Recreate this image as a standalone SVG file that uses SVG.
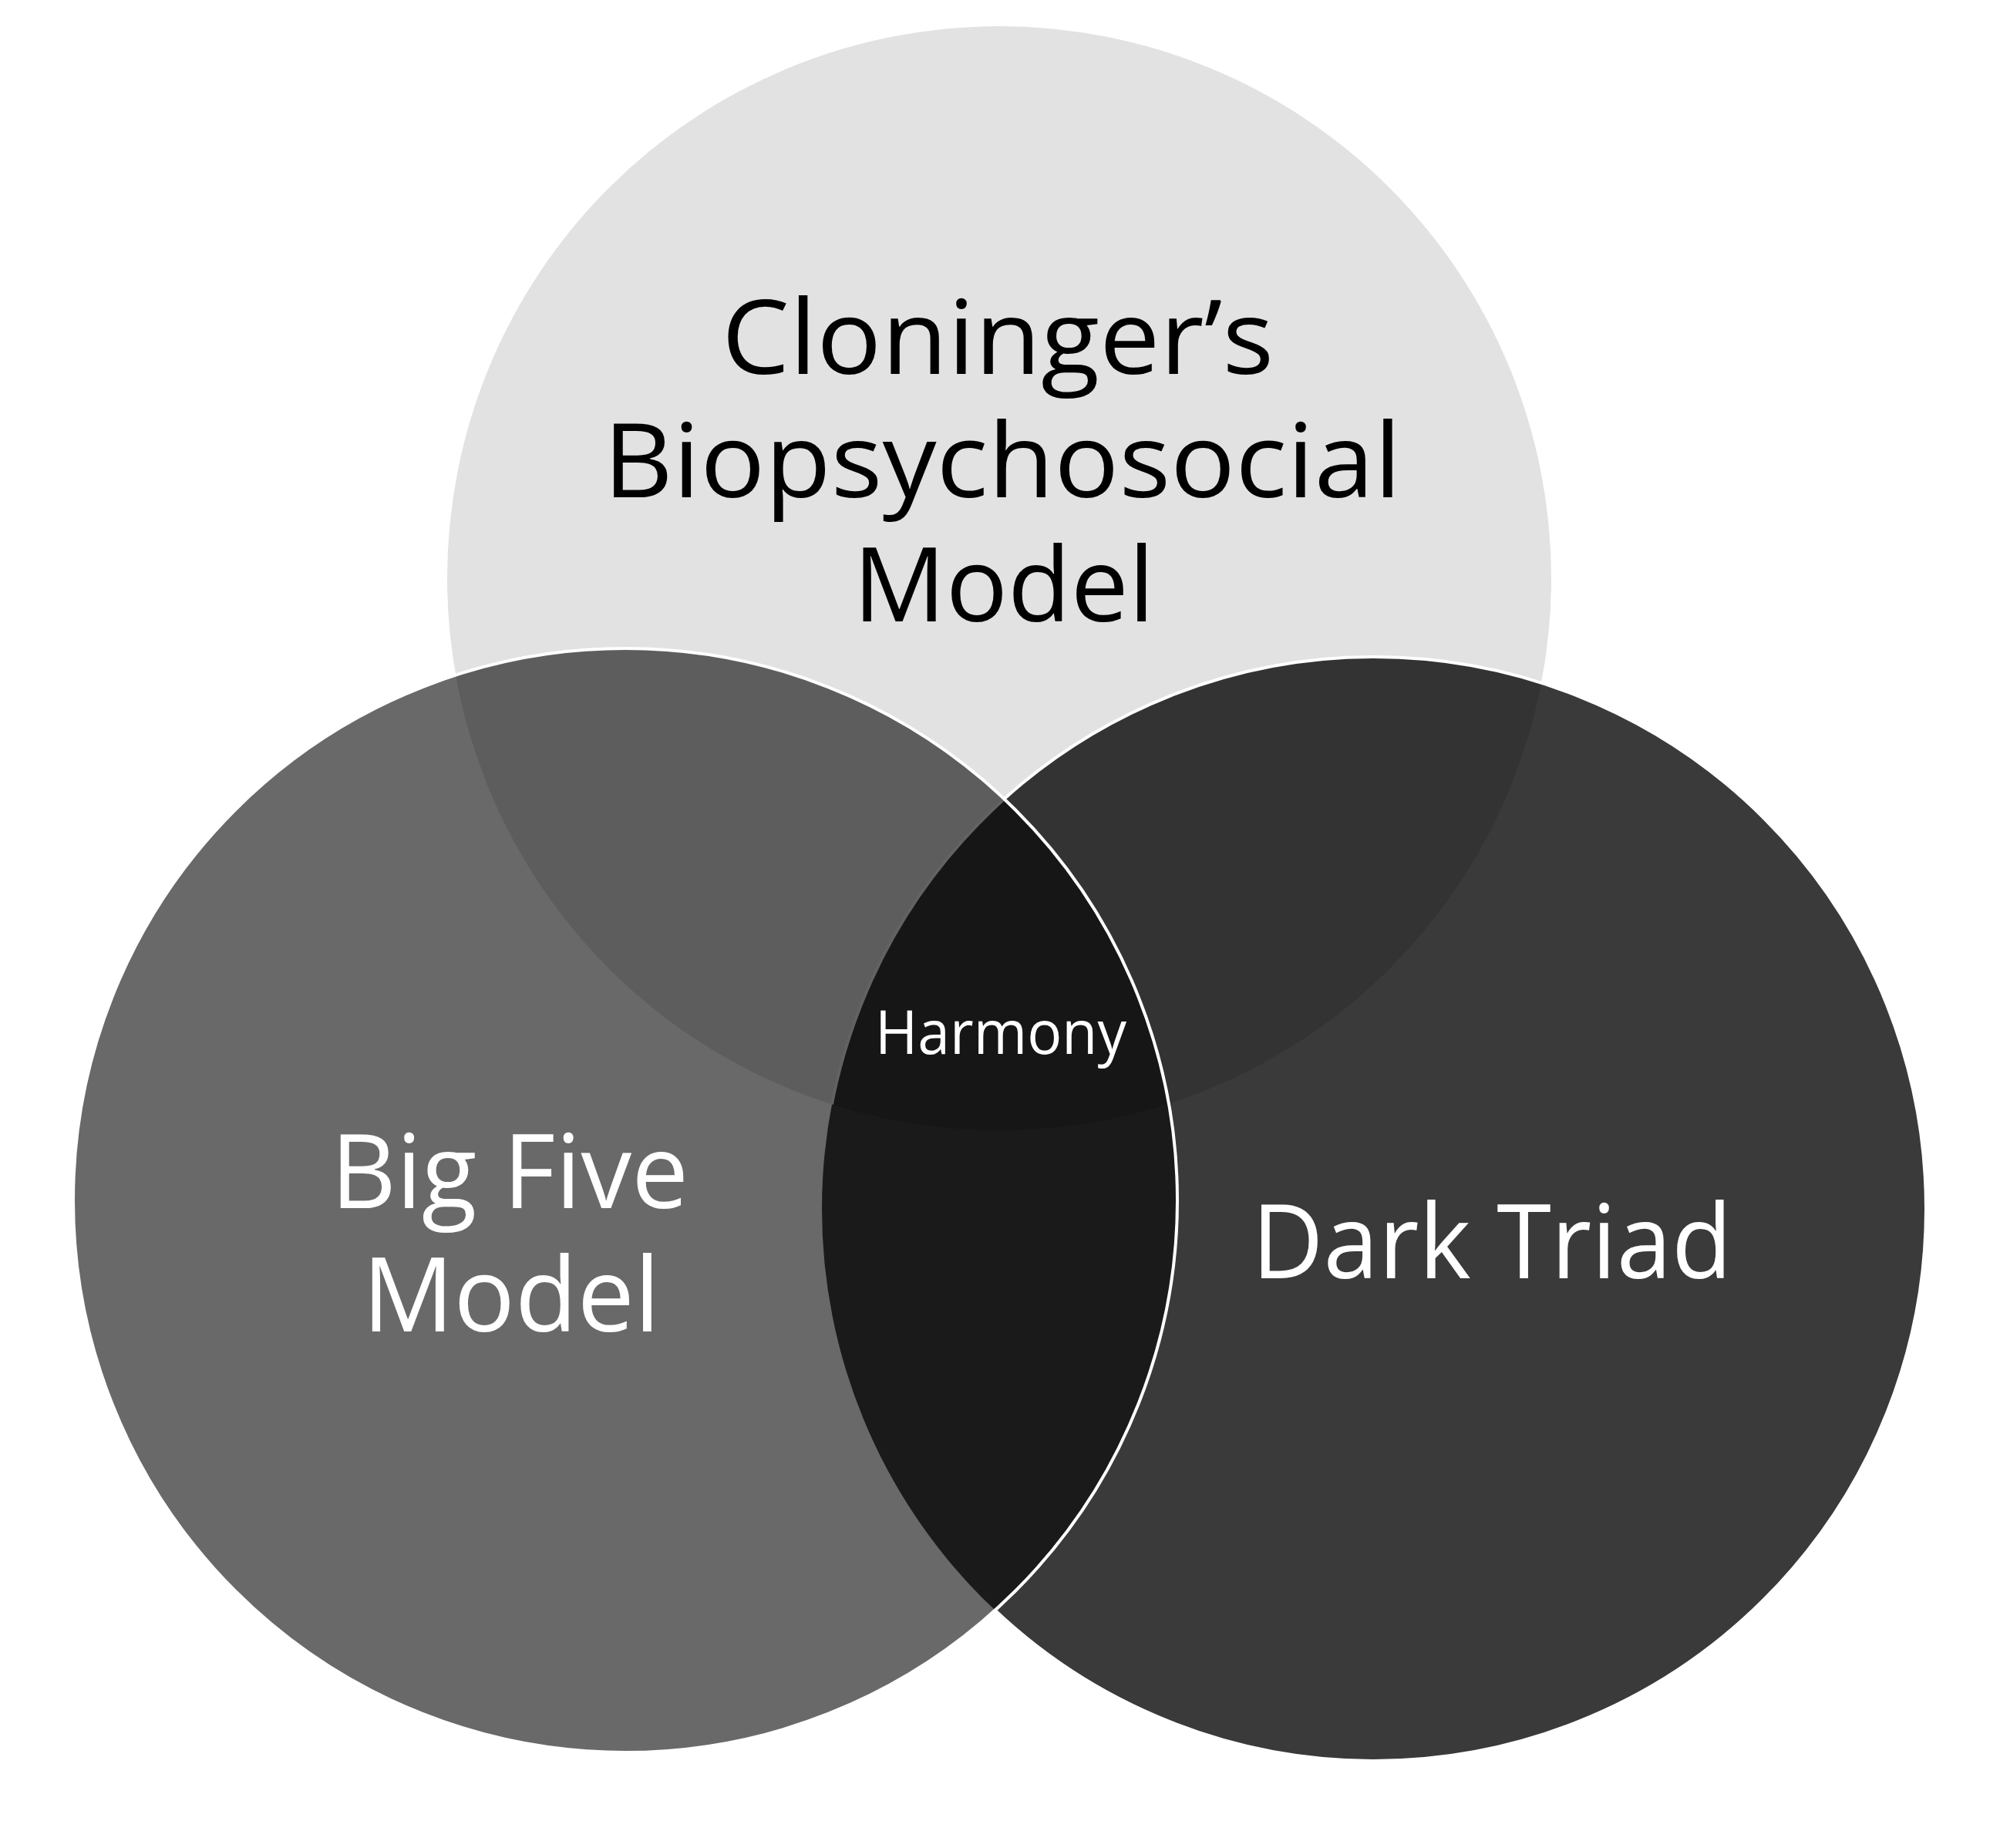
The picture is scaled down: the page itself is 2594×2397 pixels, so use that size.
<svg xmlns="http://www.w3.org/2000/svg" width="2594" height="2397" viewBox="0 0 2594 2397">
  <style>
    .lbl { font-family: "Open Sans", "Noto Sans", "Liberation Sans", sans-serif; text-anchor: middle; }
    .big { font-size: 134px; }
    .small { font-size: 78px; }
    .dark { fill: #000000; }
    .light { fill: #ffffff; }
  </style>
  <defs>
    <clipPath id="clipTop"><circle cx="1296" cy="750" r="716"/></clipPath>
    <clipPath id="clipRight"><circle cx="1782" cy="1568" r="716"/></clipPath>
    <clipPath id="clipLeft"><circle cx="811" cy="1557" r="716"/></clipPath>
  </defs>
  <rect width="2594" height="2397" fill="#ffffff"/>

  <g id="node-cloninger">
    <circle cx="1296" cy="750" r="716" fill="#e2e2e2"/>
  </g>

  <g id="node-dark-triad">
    <circle cx="1782" cy="1568" r="716" fill="#3a3a3a"/>
    <circle cx="1782" cy="1568" r="716" fill="#333333" clip-path="url(#clipTop)"/>
    <circle cx="1782" cy="1568" r="716" fill="none" stroke="#ffffff" stroke-width="4"/>
  </g>

  <g id="node-big-five">
    <circle cx="811" cy="1557" r="716" fill="#696969"/>
    <circle cx="811" cy="1557" r="716" fill="#5d5d5d" clip-path="url(#clipTop)"/>
  </g>

  <g id="node-harmony">
    <circle cx="811" cy="1557" r="716" fill="#1a1a1a" clip-path="url(#clipRight)"/>
    <g clip-path="url(#clipTop)">
      <circle cx="811" cy="1557" r="716" fill="#161616" clip-path="url(#clipRight)"/>
    </g>
    <g clip-path="url(#clipTop)">
      <circle cx="1782" cy="1568" r="716" fill="none" stroke="#626262" stroke-width="4" clip-path="url(#clipLeft)"/>
    </g>
  </g>

  <g id="connectors">
    <circle cx="811" cy="1557" r="716" fill="none" stroke="#ffffff" stroke-width="4"/>
  </g>

  <g id="labels">
    <text class="lbl big dark" x="1294" y="485" textLength="716" lengthAdjust="spacingAndGlyphs">Cloninger’s</text>
    <text class="lbl big dark" x="1300" y="645" textLength="1035" lengthAdjust="spacingAndGlyphs">Biopsychosocial</text>
    <text class="lbl big dark" x="1302" y="806" textLength="391" lengthAdjust="spacingAndGlyphs">Model</text>
    <text class="lbl big light" x="661" y="1567" textLength="464" lengthAdjust="spacingAndGlyphs">Big Five</text>
    <text class="lbl big light" x="663" y="1727" textLength="386" lengthAdjust="spacingAndGlyphs">Model</text>
    <text class="lbl big light" x="1935" y="1658" textLength="623" lengthAdjust="spacingAndGlyphs">Dark Triad</text>
    <text class="lbl small light" x="1298" y="1367" textLength="326" lengthAdjust="spacingAndGlyphs">Harmony</text>
  </g>
</svg>
